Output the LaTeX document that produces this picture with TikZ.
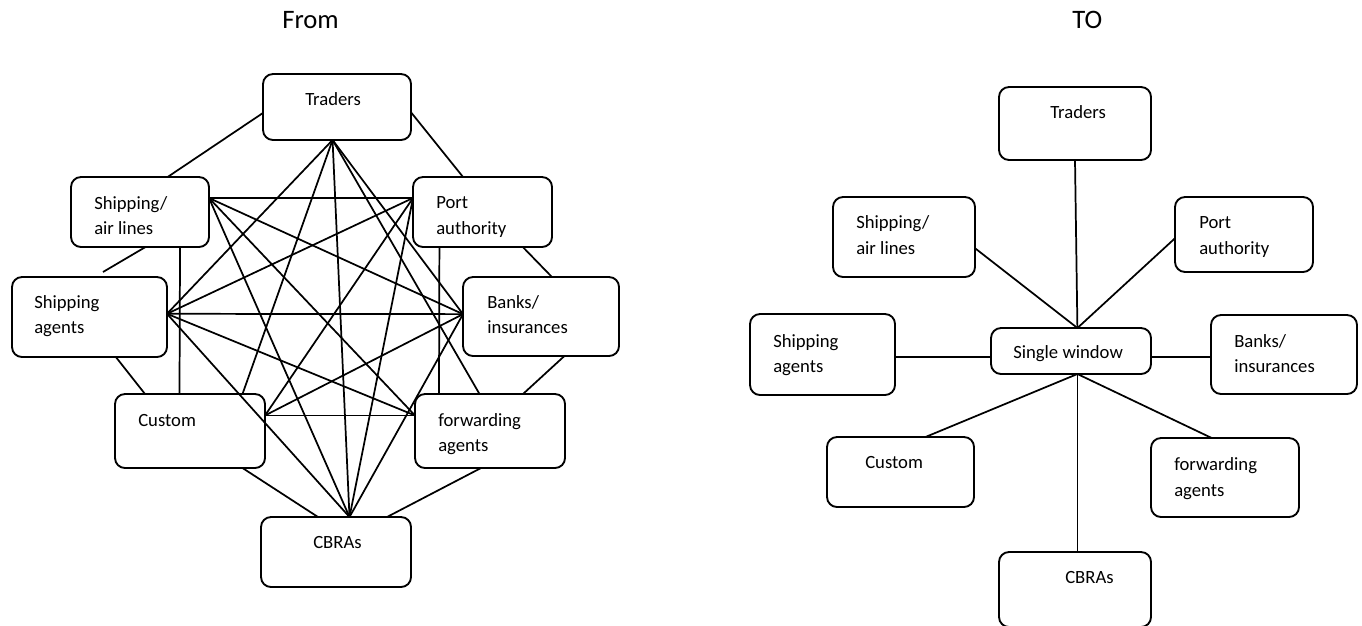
\documentclass[tikz,border=0pt]{standalone}
\usepackage{fontspec}
\setmainfont{Carlito}
\usetikzlibrary{calc,fit}
\begin{document}
\begin{tikzpicture}[x=0.75pt,y=-0.75pt,
  box/.style={draw, line width=1.4pt, rounded corners=7.5pt, inner sep=0pt, outer sep=0pt},
  lbl/.style={anchor=base west, inner sep=0pt, font=\fontsize{14}{17}\selectfont},
  ttl/.style={anchor=base west, inner sep=0pt, font=\fontsize{20}{24}\selectfont},
  link/.style={line width=1.3pt}]
\useasboundingbox (0,0) rectangle (1362,625);

% ---------- titles ----------
\node[ttl] (from) at (282,28) {From};
\node[ttl] (to) at (1072,28) {TO};

% ---------- left: every party talks to every other ----------
\node[box, fit={(263,74) (411,140)}] (tr) {};
\node[box, fit={(71,177) (209,247)}] (sal) {};
\node[box, fit={(413,177) (552,247)}] (pa) {};
\node[box, fit={(12,277) (167,357)}] (sag) {};
\node[box, fit={(463,277) (619,356)}] (bi) {};
\node[box, fit={(115,394) (265,468)}] (cu) {};
\node[box, fit={(415,394) (565,468)}] (fa) {};
\node[box, fit={(261,517) (411,587)}] (cb) {};

\node[lbl] (trL) at (305,105) {Traders};
\node[lbl] (salL1) at (94,209) {Shipping/};
\node[lbl] (salL2) at (94,234) {air lines};
\node[lbl] (paL1) at (436,208) {Port};
\node[lbl] (paL2) at (436,234) {authority};
\node[lbl] (sagL1) at (34,308) {Shipping};
\node[lbl] (sagL2) at (34,333) {agents};
\node[lbl] (biL1) at (487,308) {Banks/};
\node[lbl] (biL2) at (487,333) {insurances};
\node[lbl] (cuL) at (138,426) {Custom};
\node[lbl] (faL1) at (438,426) {forwarding};
\node[lbl] (faL2) at (438,451) {agents};
\node[lbl] (cbL) at (313,548) {CBRAs};

% points on the borders where the inner links meet
\coordinate (trH) at ($(tr.south west)!0.47!(tr.south east)$);
\coordinate (salH) at ($(sal.north east)!0.3!(sal.south east)$);
\coordinate (paH) at ($(pa.north west)!0.3!(pa.south west)$);
\coordinate (sagH) at ($(sag.north east)!0.46!(sag.south east)$);
\coordinate (biH) at ($(bi.north west)!0.47!(bi.south west)$);
\coordinate (cuH) at ($(cu.north east)!0.29!(cu.south east)$);
\coordinate (faH) at ($(fa.north west)!0.29!(fa.south west)$);
\coordinate (cbH) at ($(cb.north west)!0.59!(cb.north east)$);
\coordinate (salGap) at (103,272);

% outer ring
\draw[link] ($(tr.north west)!0.59!(tr.south west)$) -- ($(sal.north west)!0.70!(sal.north east)$);
\draw[link] ($(tr.north east)!0.58!(tr.south east)$) -- ($(pa.north west)!0.36!(pa.north east)$);
\draw[link] ($(sal.south west)!0.54!(sal.south east)$) -- (salGap);
\draw[link] ($(pa.south west)!0.79!(pa.south east)$) -- ($(bi.north west)!0.57!(bi.north east)$);
\draw[link] ($(sag.south west)!0.67!(sag.south east)$) -- ($(cu.north west)!0.2!(cu.north east)$);
\draw[link] ($(bi.south west)!0.65!(bi.south east)$) -- ($(fa.north west)!0.72!(fa.north east)$);
\draw[link] ($(cu.south west)!0.85!(cu.south east)$) -- ($(cb.north west)!0.38!(cb.north east)$);
\draw[link] ($(fa.south west)!0.44!(fa.south east)$) -- ($(cb.north west)!0.84!(cb.north east)$);

% the two vertical links
\draw[link] ($(sal.south west)!0.79!(sal.south east)$) -- ($(cu.north west)!0.43!(cu.north east)$);
\draw[link] ($(pa.south west)!0.19!(pa.south east)$) -- ($(fa.north west)!0.16!(fa.north east)$);

% inner links
\draw[link] (trH) -- (sagH);
\draw[link] (trH) -- ($(cu.north west)!0.85!(cu.north east)$);
\draw[link] (trH) -- (cbH);
\draw[link] (trH) -- (biH);
\draw[link] (trH) -- ($(fa.north west)!0.43!(fa.north east)$);
\draw[link] (salH) -- (paH);
\draw[link] (salH) -- (biH);
\draw[link] (salH) -- (faH);
\draw[link] (salH) -- (cbH);
\draw[link] (paH) -- (sagH);
\draw[link] (paH) -- (cuH);
\draw[link] (paH) -- (cbH);
\draw[link] (sagH) -- (biH);
\draw[link] (sagH) -- (faH);
\draw[link] (sagH) -- (cbH);
\draw[link] (biH) -- (cuH);
\draw[link] (biH) -- (cbH);
\draw[link] (cuH) -- (faH);

% ---------- right: everyone through the single window ----------
\node[box, fit={(999,87) (1151,160)}] (tr2) {};
\node[box, fit={(833,197) (975,277)}] (sal2) {};
\node[box, fit={(1175,197) (1313,272)}] (pa2) {};
\node[box, fit={(750,314) (895,395)}] (sag2) {};
\node[box, fit={(991,328) (1151,374)}] (sw) {};
\node[box, fit={(1211,315) (1357,394)}] (bi2) {};
\node[box, fit={(827,437) (974,507)}] (cu2) {};
\node[box, fit={(1151,438) (1299,517)}] (fa2) {};
\node[box, fit={(999,552) (1151,627)}] (cb2) {};

\node[lbl] (tr2L) at (1050,118) {Traders};
\node[lbl] (sal2L1) at (856,228) {Shipping/};
\node[lbl] (sal2L2) at (856,254) {air lines};
\node[lbl] (pa2L1) at (1199,228) {Port};
\node[lbl] (pa2L2) at (1199,254) {authority};
\node[lbl] (sag2L1) at (773,347) {Shipping};
\node[lbl] (sag2L2) at (773,372) {agents};
\node[lbl] (swL) at (1013,358) {Single window};
\node[lbl] (bi2L1) at (1234,347) {Banks/};
\node[lbl] (bi2L2) at (1234,372) {insurances};
\node[lbl] (cu2L) at (865,468) {Custom};
\node[lbl] (fa2L1) at (1174,470) {forwarding};
\node[lbl] (fa2L2) at (1174,496) {agents};
\node[lbl] (cb2L) at (1065,583) {CBRAs};

\coordinate (swT) at ($(sw.north west)!0.54!(sw.north east)$);
\coordinate (swB) at ($(sw.south west)!0.54!(sw.south east)$);
\coordinate (sagR) at ($(sag2.north east)!0.53!(sag2.south east)$);

\draw[link] (tr2.south) -- (swT);
\draw[link] ($(sal2.north east)!0.64!(sal2.south east)$) -- (swT);
\draw[link] ($(pa2.north west)!0.55!(pa2.south west)$) -- (swT);
\draw[link] (sagR) -- (sagR -| sw.west);
\draw[link] (sagR -| sw.east) -- (sagR -| bi2.west);
\draw[link] (swB) -- ($(cu2.north west)!0.67!(cu2.north east)$);
\draw[link] (swB) -- ($(fa2.north west)!0.41!(fa2.north east)$);
\draw[link] (swB) -- (swB |- cb2.north);
\end{tikzpicture}
\end{document}
